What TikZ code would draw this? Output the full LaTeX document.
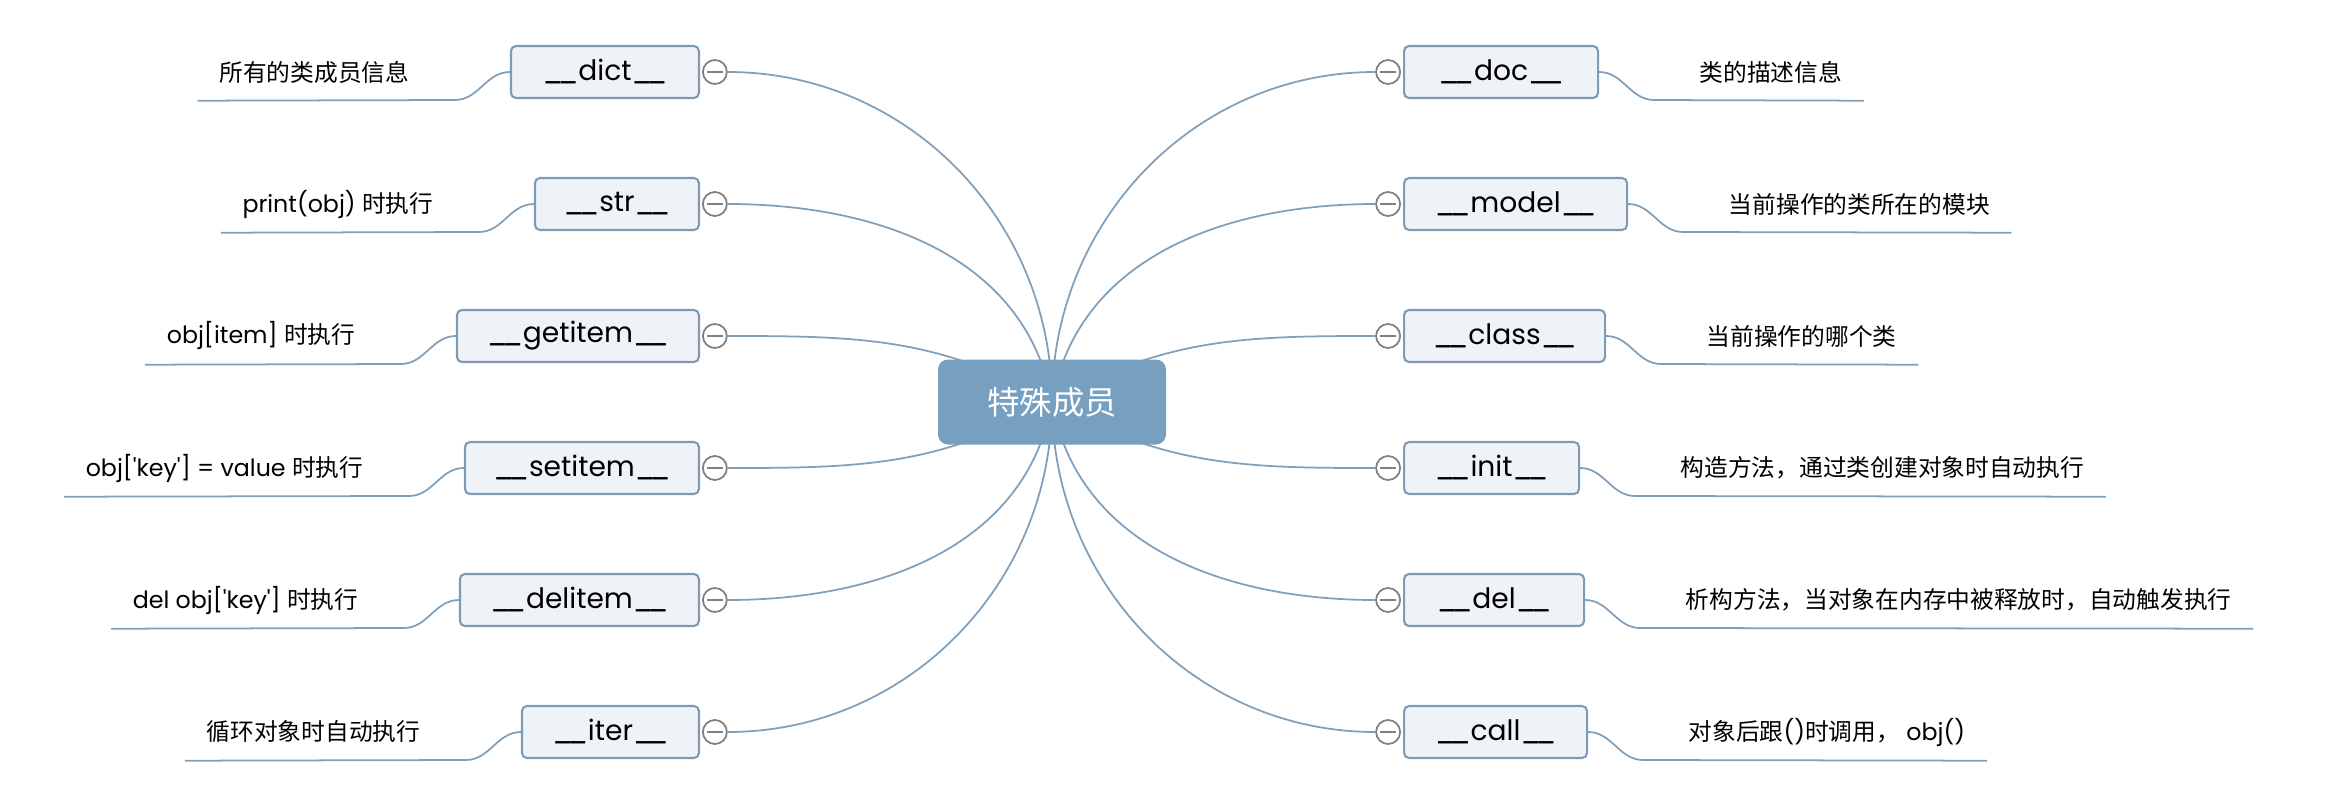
\documentclass[tikz,border=0pt]{standalone}
\usepackage{fontspec}
\newfontfamily\lat{Poppins}[Ligatures=TeXOff]
\newfontfamily\cjk{Noto Sans CJK SC}
\usetikzlibrary{positioning,backgrounds}
\definecolor{rootfill}{HTML}{769FC0}
\definecolor{linkblue}{HTML}{7F9FBA}
\definecolor{boxline}{HTML}{7E9BB5}
\definecolor{boxfill}{HTML}{EFF3F7}
\definecolor{foldline}{HTML}{808080}
\newcommand\dunder{\_\kern-0.2em\_}

\begin{document}
\begin{tikzpicture}[
  root/.style={rectangle, fill=rootfill, text=white, rounded corners=0.1cm, minimum width=2.28cm, minimum height=0.85cm, font=\cjk\fontsize{9.2}{11}\selectfont},
  member/.style={rectangle, draw=boxline, fill=boxfill, rounded corners=0.05cm, minimum height=0.52cm, inner sep=0pt, line width=0.6pt, font=\lat\fontsize{8}{10}\selectfont},
  fold/.style={circle, draw=foldline, fill=white, line width=0.5pt, minimum size=0.24cm, inner sep=0pt,
    path picture={\draw[foldline, line width=0.6pt] ([xshift=-0.08cm]path picture bounding box.center) -- ([xshift=0.08cm]path picture bounding box.center);}},
  note/.style={minimum height=0.56cm, inner xsep=0.21cm, inner ysep=0pt, font=\lat\fontsize{6.75}{8}\selectfont},
  branch/.style={linkblue, line width=0.5pt},
  twig/.style={linkblue, line width=0.5pt}
]
\useasboundingbox (0,0) rectangle (23.52,8.10);

\node[root] (root) at (10.52,4.08) {特殊成员};

% left members
\node[member, minimum width=1.88cm, anchor=east] (dict) at (7.00,7.38) {\dunder dict\dunder};
\node[member, minimum width=1.64cm, anchor=east] (str) at (7.00,6.06) {\dunder str\dunder};
\node[member, minimum width=2.42cm, anchor=east] (getitem) at (7.00,4.74) {\dunder getitem\dunder};
\node[member, minimum width=2.34cm, anchor=east] (setitem) at (7.00,3.42) {\dunder setitem\dunder};
\node[member, minimum width=2.39cm, anchor=east] (delitem) at (7.00,2.10) {\dunder delitem\dunder};
\node[member, minimum width=1.77cm, anchor=east] (iter) at (7.00,0.78) {\dunder iter\dunder};

\node[fold, right=0.02cm of dict] (dict-fold) {};
\node[fold, right=0.02cm of str] (str-fold) {};
\node[fold, right=0.02cm of getitem] (getitem-fold) {};
\node[fold, right=0.02cm of setitem] (setitem-fold) {};
\node[fold, right=0.02cm of delitem] (delitem-fold) {};
\node[fold, right=0.02cm of iter] (iter-fold) {};

\node[note, left=0.79cm of dict] (dict-note) {{\cjk 所有的类成员信息}};
\node[note, left=0.79cm of str] (str-note) {print(obj) {\cjk 时执行}};
\node[note, left=0.79cm of getitem] (getitem-note) {obj[item] {\cjk 时执行}};
\node[note, left=0.79cm of setitem] (setitem-note) {obj['key'] = value {\cjk 时执行}};
\node[note, left=0.79cm of delitem] (delitem-note) {del obj['key'] {\cjk 时执行}};
\node[note, left=0.79cm of iter] (iter-note) {{\cjk 循环对象时自动执行}};

% right members
\node[member, minimum width=1.94cm, anchor=west] (doc) at (14.03,7.38) {\dunder doc\dunder};
\node[member, minimum width=2.23cm, anchor=west] (model) at (14.03,6.06) {\dunder model\dunder};
\node[member, minimum width=2.01cm, anchor=west] (class) at (14.03,4.74) {\dunder class\dunder};
\node[member, minimum width=1.75cm, anchor=west] (init) at (14.03,3.42) {\dunder init\dunder};
\node[member, minimum width=1.80cm, anchor=west] (del) at (14.03,2.10) {\dunder del\dunder};
\node[member, minimum width=1.83cm, anchor=west] (call) at (14.03,0.78) {\dunder call\dunder};

\node[fold, left=0.02cm of doc] (doc-fold) {};
\node[fold, left=0.02cm of model] (model-fold) {};
\node[fold, left=0.02cm of class] (class-fold) {};
\node[fold, left=0.02cm of init] (init-fold) {};
\node[fold, left=0.02cm of del] (del-fold) {};
\node[fold, left=0.02cm of call] (call-fold) {};

\node[note, right=0.79cm of doc] (doc-note) {{\cjk 类的描述信息}};
\node[note, right=0.79cm of model] (model-note) {{\cjk 当前操作的类所在的模块}};
\node[note, right=0.79cm of class] (class-note) {{\cjk 当前操作的哪个类}};
\node[note, right=0.79cm of init] (init-note) {{\cjk 构造方法，通过类创建对象时自动执行}};
\node[note, right=0.79cm of del] (del-note) {{\cjk 析构方法，当对象在内存中被释放时，自动触发执行}};
\node[note, right=0.79cm of call] (call-note) {{\cjk 对象后跟}(){\cjk 时调用，} obj()};

% member -> note
\draw[twig] (dict.west) to[out=180,in=0] ++(-0.55,-0.28) -- (dict-note.south west);
\draw[twig] (str.west) to[out=180,in=0] ++(-0.55,-0.28) -- (str-note.south west);
\draw[twig] (getitem.west) to[out=180,in=0] ++(-0.55,-0.28) -- (getitem-note.south west);
\draw[twig] (setitem.west) to[out=180,in=0] ++(-0.55,-0.28) -- (setitem-note.south west);
\draw[twig] (delitem.west) to[out=180,in=0] ++(-0.55,-0.28) -- (delitem-note.south west);
\draw[twig] (iter.west) to[out=180,in=0] ++(-0.55,-0.28) -- (iter-note.south west);
\draw[twig] (doc.east) to[out=0,in=180] ++(0.55,-0.28) -- (doc-note.south east);
\draw[twig] (model.east) to[out=0,in=180] ++(0.55,-0.28) -- (model-note.south east);
\draw[twig] (class.east) to[out=0,in=180] ++(0.55,-0.28) -- (class-note.south east);
\draw[twig] (init.east) to[out=0,in=180] ++(0.55,-0.28) -- (init-note.south east);
\draw[twig] (del.east) to[out=0,in=180] ++(0.55,-0.28) -- (del-note.south east);
\draw[twig] (call.east) to[out=0,in=180] ++(0.55,-0.28) -- (call-note.south east);

% root -> members, behind the root box
\begin{scope}[on background layer]
\draw[branch] (root.center) to[out=90,in=0] (dict-fold);
\draw[branch] (root.center) to[out=100,in=0] (str-fold);
\draw[branch] (root.center) to[out=150,in=0] (getitem-fold);
\draw[branch] (root.center) to[out=210,in=0] (setitem-fold);
\draw[branch] (root.center) to[out=260,in=0] (delitem-fold);
\draw[branch] (root.center) to[out=270,in=0] (iter-fold);
\draw[branch] (root.center) to[out=90,in=180] (doc-fold);
\draw[branch] (root.center) to[out=80,in=180] (model-fold);
\draw[branch] (root.center) to[out=30,in=180] (class-fold);
\draw[branch] (root.center) to[out=-30,in=180] (init-fold);
\draw[branch] (root.center) to[out=-80,in=180] (del-fold);
\draw[branch] (root.center) to[out=-90,in=180] (call-fold);
\end{scope}
\end{tikzpicture}
\end{document}
